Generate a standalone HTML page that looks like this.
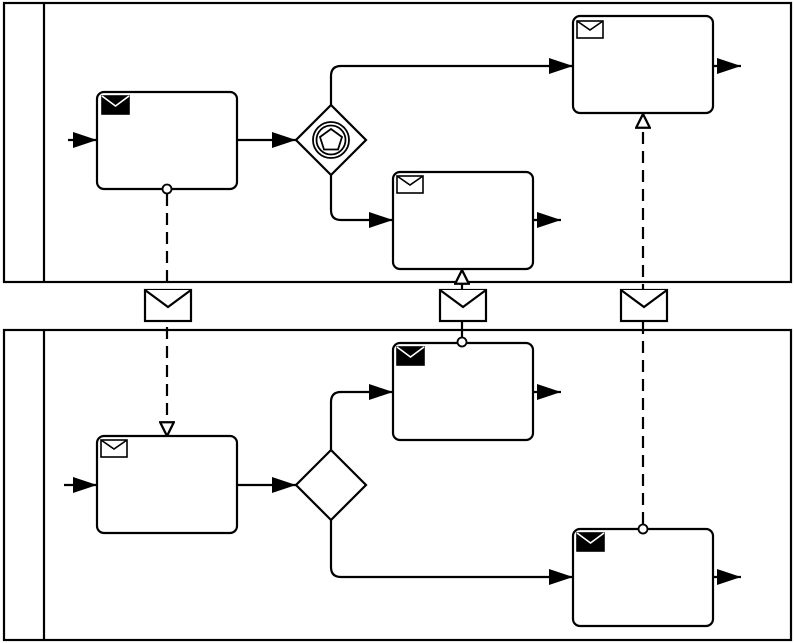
<!DOCTYPE html>
<html><head><meta charset="utf-8"><style>body{margin:0;background:#fff}svg{display:block}</style></head><body>
<svg width="794" height="643" viewBox="0 0 794 643" xmlns="http://www.w3.org/2000/svg" fill="none" stroke="#000" stroke-width="2.2">
<defs>
<marker id="h" viewBox="0 0 14 14" refX="13" refY="7" markerWidth="16" markerHeight="16" markerUnits="userSpaceOnUse" orient="auto"><path d="M1,1 L13,7 L1,13z" fill="#fff" stroke="#000" stroke-width="2"/></marker>
<marker id="b" viewBox="0 0 24 16" refX="24" refY="8" markerWidth="24" markerHeight="16" markerUnits="userSpaceOnUse" orient="auto"><path d="M0,0 L24,8 L0,16z" fill="#000" stroke="none"/></marker>
</defs>
<rect x="4" y="3" width="787" height="279"/><line x1="44" y1="3" x2="44" y2="282"/>
<rect x="4" y="330" width="787" height="310"/><line x1="44" y1="330" x2="44" y2="640"/>
<rect x="97" y="92" width="140" height="97" rx="7"/>
<rect x="573" y="16" width="140" height="97" rx="7"/>
<rect x="393" y="172" width="140" height="97" rx="7"/>
<rect x="393" y="343" width="140" height="97" rx="7"/>
<rect x="97" y="436" width="140" height="97" rx="7"/>
<rect x="573" y="529" width="140" height="97" rx="7"/>
<g stroke-width="1.6">
<rect x="102" y="96" width="27" height="18" fill="#000"/><path d="M102,96 L115.5,106 L129,96" stroke="#fff"/>
<rect x="577" y="21" width="26" height="17" fill="#fff"/><path d="M577,21 L590,30 L603,21"/>
<rect x="397" y="176" width="26" height="17" fill="#fff"/><path d="M397,176 L410,185 L423,176"/>
<rect x="397" y="347" width="27" height="18" fill="#000"/><path d="M397,347 L410.5,357 L424,347" stroke="#fff"/>
<rect x="101" y="440" width="26" height="17" fill="#fff"/><path d="M101,440 L114,449 L127,440"/>
<rect x="577" y="533" width="27" height="18" fill="#000"/><path d="M577,533 L590.5,543 L604,533" stroke="#fff"/>
</g>
<line x1="68" y1="140" x2="97" y2="140" marker-end="url(#b)"/>
<line x1="237" y1="140" x2="296" y2="140" marker-end="url(#b)"/>
<path d="M331,105 L331,76 Q331,66 341,66 L573,66" marker-end="url(#b)"/>
<path d="M331,175 L331,210 Q331,220 341,220 L393,220" marker-end="url(#b)"/>
<line x1="713" y1="66" x2="741" y2="66" marker-end="url(#b)"/>
<line x1="533" y1="220" x2="561" y2="220" marker-end="url(#b)"/>
<path d="M331,105 L366,140 L331,175 L296,140z" fill="#fff"/>
<circle cx="331" cy="140" r="18" stroke-width="1.8"/><circle cx="331" cy="140" r="14.5" stroke-width="1.8"/>
<path d="M331,129 L342,137 L338,149.5 L324,149.5 L320,137z" stroke-width="1.8"/>
<line x1="64" y1="485" x2="97" y2="485" marker-end="url(#b)"/>
<line x1="237" y1="485" x2="296" y2="485" marker-end="url(#b)"/>
<path d="M331,450 L331,402 Q331,392 341,392 L393,392" marker-end="url(#b)"/>
<path d="M331,520 L331,567 Q331,577 341,577 L573,577" marker-end="url(#b)"/>
<line x1="533" y1="392" x2="561" y2="392" marker-end="url(#b)"/>
<line x1="713" y1="577" x2="741" y2="577" marker-end="url(#b)"/>
<path d="M331,450 L366,485 L331,520 L296,485z" fill="#fff"/>
<line x1="167" y1="194" x2="167" y2="436" stroke-dasharray="12,7" marker-end="url(#h)"/>
<circle cx="167" cy="189" r="4.5" fill="#fff" stroke-width="1.8"/>
<line x1="462" y1="337" x2="462" y2="270" marker-end="url(#h)"/>
<circle cx="462" cy="342" r="4.5" fill="#fff" stroke-width="1.8"/>
<line x1="643" y1="524" x2="643" y2="114" stroke-dasharray="12,7" marker-end="url(#h)"/>
<circle cx="643" cy="529" r="4.5" fill="#fff" stroke-width="1.8"/>
<g fill="#fff">
<rect x="145" y="290" width="46" height="31"/><path d="M145,290 L168,307 L191,290"/>
<rect x="440" y="290" width="46" height="31"/><path d="M440,290 L463,307 L486,290"/>
<rect x="621" y="290" width="46" height="31"/><path d="M621,290 L644,307 L667,290"/>
</g>
</svg>
</body></html>
